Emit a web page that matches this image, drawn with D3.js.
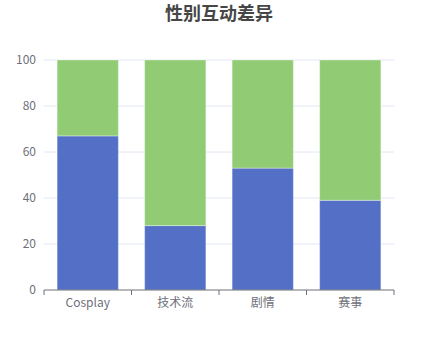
<!DOCTYPE html>
<html><head><meta charset="utf-8">
<script src="https://cdn.jsdelivr.net/npm/d3@7/dist/d3.min.js"></script>
<style>body{margin:0;background:#fff}svg{display:block}</style>
</head><body>
<script>
const title = "性别互动差异";
const categories = ["Cosplay", "技术流", "剧情", "赛事"];
const seriesA = [67, 28, 53, 39];
const seriesB = [33, 72, 47, 61];
const yTicks = [0, 20, 40, 60, 80, 100];
const colors = ["#5470c6", "#91cc75"];

const W = 438, H = 360;
const m = {left: 44, right: 44, top: 60, bottom: 70};
const svg = d3.select("body").append("svg").attr("width", W).attr("height", H)
  .style("font-family", "'Noto Sans CJK SC', 'Noto Sans', sans-serif");

svg.append("text").attr("x", W/2).attr("y", 20).attr("text-anchor", "middle")
  .attr("font-size", 18).attr("font-weight", "bold").attr("fill", "#464646").text(title);

const x = d3.scaleBand().domain(categories).range([m.left, W - m.right]).paddingInner(0.3).paddingOuter(0.15);
const y = d3.scaleLinear().domain([0, 100]).range([H - m.bottom, m.top]);

const grid = svg.append("g");
grid.selectAll("line").data(yTicks.filter(d => d > 0)).join("line")
  .attr("x1", m.left).attr("x2", W - m.right)
  .attr("y1", d => y(d)).attr("y2", d => y(d))
  .attr("stroke", "#e0e6f1").attr("stroke-width", 1);

const stackData = categories.map((c, i) => ({cat: c, a: seriesA[i], b: seriesB[i]}));
const stacked = d3.stack().keys(["a", "b"])(stackData);

svg.append("g").selectAll("g").data(stacked).join("g")
  .attr("fill", (d, i) => colors[i])
  .selectAll("rect").data(d => d).join("rect")
  .attr("x", d => x(d.data.cat)).attr("width", x.bandwidth())
  .attr("y", d => y(d[1])).attr("height", d => y(d[0]) - y(d[1]))
  .attr("stroke", "rgba(255,255,255,0.35)").attr("stroke-width", 1);

// x axis
const xa = svg.append("g").attr("transform", `translate(0,${y(0)})`);
xa.append("line").attr("x1", m.left).attr("x2", W - m.right).attr("stroke", "#6e7079");
const step = (W - m.left - m.right) / categories.length;
d3.range(categories.length + 1).forEach(i => {
  xa.append("line").attr("x1", m.left + i*step).attr("x2", m.left + i*step)
    .attr("y1", 0).attr("y2", 5).attr("stroke", "#6e7079");
});
xa.selectAll("text").data(categories).join("text")
  .attr("x", d => x(d) + x.bandwidth()/2).attr("y", 17)
  .attr("text-anchor", "middle").attr("font-size", 12).attr("fill", "#6e7079").text(d => d);

// y labels
svg.append("g").selectAll("text").data(yTicks).join("text")
  .attr("x", m.left - 8).attr("y", d => y(d)).attr("dy", "0.35em")
  .attr("text-anchor", "end").attr("font-size", 12).attr("fill", "#6e7079").text(d => d);
</script>
</body></html>
